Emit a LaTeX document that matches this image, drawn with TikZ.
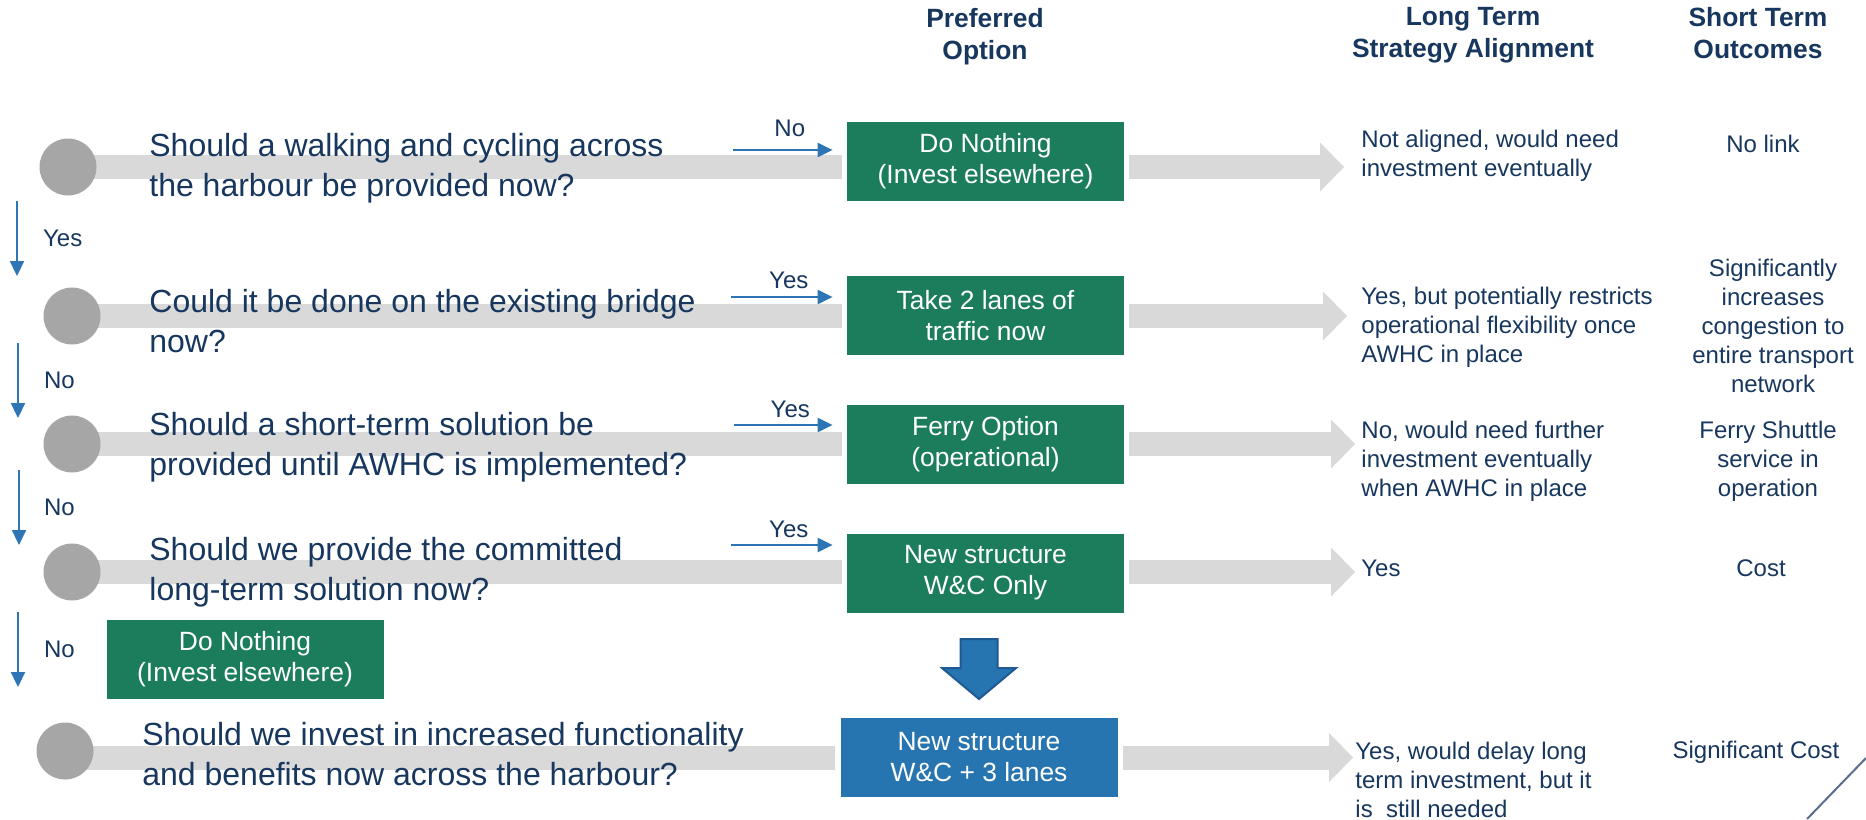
\documentclass[tikz,border=0pt]{standalone}
\usepackage{fontspec}
\setmainfont{Liberation Sans}
\usetikzlibrary{shapes,arrows.meta,positioning,backgrounds}

\definecolor{navy}{RGB}{23,55,94}
\definecolor{optgreen}{RGB}{28,125,92}
\definecolor{optblue}{RGB}{38,116,176}
\definecolor{edgeblue}{RGB}{30,90,145}
\definecolor{bargray}{RGB}{217,217,217}
\definecolor{dotgray}{RGB}{166,166,166}
\definecolor{linkblue}{RGB}{46,117,182}
\definecolor{slate}{RGB}{90,110,140}

\tikzset{
  question/.style={anchor=west, align=left, text=navy, inner sep=0pt,
    font=\fontsize{16}{20}\selectfont},
  option/.style={fill=optgreen, text=white, align=center, inner sep=0pt,
    minimum width=138.5pt, minimum height=39.5pt,
    font=\fontsize{13.2}{15.5}\selectfont},
  dot/.style={circle, fill=dotgray, minimum size=28.5pt, inner sep=0pt},
  bar/.style={draw=bargray, line width=12pt, shorten >=2.5pt},
  flow/.style={draw=bargray, line width=12pt, shorten <=2.5pt,
    -{Triangle[length=12pt,width=24.5pt,line width=0pt]}},
  answer/.style={anchor=west, align=left, text=navy, inner sep=0pt,
    font=\fontsize{12}{14.4}\selectfont},
  outcome/.style={align=center, text=navy, inner sep=0pt,
    font=\fontsize{12}{14.4}\selectfont},
  heading/.style={align=center, text=navy, inner sep=0pt,
    font=\bfseries\fontsize{13.2}{16}\selectfont},
  choice/.style={draw=linkblue, line width=1.1pt,
    -{Triangle[length=7.5pt,width=7pt]}},
  tag/.style={text=navy, inner sep=0pt, font=\fontsize{12}{14}\selectfont},
  bigdown/.style={draw=edgeblue, fill=optblue, line width=1pt, line join=miter},
}

\begin{document}
\begin{tikzpicture}[x=0.5pt,y=-0.5pt]
  \useasboundingbox (0,0) rectangle (1866,819);

  \node[heading] (hpref) at (985,37) {Preferred\\Option};
  \node[heading] (hlong) at (1473,35) {Long Term\\Strategy Alignment};
  \node[heading] (hshort) at (1758,33) {Short Term\\Outcomes};

  \node[dot] (c1) at (68,167) {};
  \node[dot] (c2) at (72,316) {};
  \node[dot] (c3) at (72,444) {};
  \node[dot] (c4) at (72,572) {};
  \node[dot] (c5) at (65,751) {};

  \node[question] (q1) at (149,168) {Should a walking and cycling across\\the harbour be provided now?};
  \node[question] (q2) at (149,321) {Could it be done on the existing bridge\\now?};
  \node[question] (q3) at (149,447) {Should a short-term solution be\\provided until AWHC is implemented?};
  \node[question] (q4) at (149,572) {Should we provide the committed\\long-term solution now?};
  \node[question] (q5) at (142,754) {Should we invest in increased functionality\\and benefits now across the harbour?};

  \node[option] (b1) at (985.5,161) {Do Nothing\\(Invest elsewhere)};
  \node[option] (b2) at (985.5,315.5) {Take 2 lanes of\\traffic now};
  \node[option] (b3) at (985.5,444) {Ferry Option\\(operational)};
  \node[option] (b4) at (985.5,573) {New structure\\W\&C Only};
  \node[option, fill=optblue] (b5) at (979,757.5) {New structure\\W\&C + 3 lanes};
  \node[option] (b0) at (245,659.5) {Do Nothing\\(Invest elsewhere)};

  \node[answer] (a1) at (1361,156) {Not aligned, would need\\investment eventually};
  \node[answer] (a2) at (1361,327) {Yes, but potentially restricts\\operational flexibility once\\AWHC in place};
  \node[answer] (a3) at (1361,461) {No, would need further\\investment eventually\\when AWHC in place};
  \node[answer] (a4) at (1361,568) {Yes};
  \node[answer] (a5) at (1355,780) {Yes, would delay long\\term investment, but it\\is \ still needed};

  \node[outcome] (o1) at (1763,144) {No link};
  \node[outcome] (o2) at (1773,326) {Significantly\\increases\\congestion to\\entire transport\\network};
  \node[outcome] (o3) at (1768,461) {Ferry Shuttle\\service in\\operation};
  \node[outcome] (o4) at (1761,568) {Cost};
  \node[outcome] (o5) at (1756,752) {Significant Cost};

  \coordinate (y1) at (733,150);
  \coordinate (y2) at (731,297);
  \coordinate (y3) at (734,425);
  \coordinate (y4) at (731,545);
  \draw[choice, shorten >=7pt] (y1) -- (y1 -| b1.west) node[tag, midway, above=6pt] {No};
  \draw[choice, shorten >=7pt] (y2) -- (y2 -| b2.west) node[tag, midway, above=3.5pt] {Yes};
  \draw[choice, shorten >=7pt] (y3) -- (y3 -| b3.west) node[tag, midway, above=3pt] {Yes};
  \draw[choice, shorten >=7pt] (y4) -- (y4 -| b4.west) node[tag, midway, above=3pt] {Yes};

  \coordinate (d1) at (17,201);
  \coordinate (e1) at (17,276);
  \coordinate (d2) at (18,343);
  \coordinate (e2) at (18,418);
  \coordinate (d3) at (19,470);
  \coordinate (e3) at (19,545);
  \coordinate (d4) at (18,612);
  \coordinate (e4) at (18,687);
  \draw[choice] (d1) -- (e1) node[tag, midway, right=12.5pt] {Yes};
  \draw[choice] (d2) -- (e2) node[tag, midway, right=12.5pt] {No};
  \draw[choice] (d3) -- (e3) node[tag, midway, right=12pt] {No};
  \draw[choice] (d4) -- (e4) node[tag, midway, right=12.5pt] {No};

  \draw[flow, shorten >=8.5pt] (b1.east |- c1) -- (a1.west |- c1);
  \draw[flow, shorten >=7pt] (b2.east |- c2) -- (a2.west |- c2);
  \draw[flow, shorten >=3pt] (b3.east |- c3) -- (a3.west |- c3);
  \draw[flow, shorten >=3pt] (b4.east |- c4) -- (a4.west |- c4);
  \draw[flow, shorten >=1pt] (b5.east) -- (a5.west |- b5);

  \coordinate (down) at (979,669.5);
  \draw[bigdown] (down) ++(-18.5,-30.5) -- ++(37,0) -- ++(0,29) -- ++(18.5,0)
    -- ++(-37,31) -- ++(-37,-31) -- ++(18.5,0) -- cycle;

  \draw[slate, line width=1pt] (1807,819) -- (1866,758);

  \begin{scope}[on background layer]
    \fill[white] (0,0) rectangle (1866,819);
    \draw[bar] (c1.center) -- (c1 -| b1.west);
    \draw[bar] (c2.center) -- (c2 -| b2.west);
    \draw[bar] (c3.center) -- (c3 -| b3.west);
    \draw[bar] (c4.center) -- (c4 -| b4.west);
    \draw[bar] (c5.center |- b5) -- (b5.west);
  \end{scope}
\end{tikzpicture}
\end{document}
